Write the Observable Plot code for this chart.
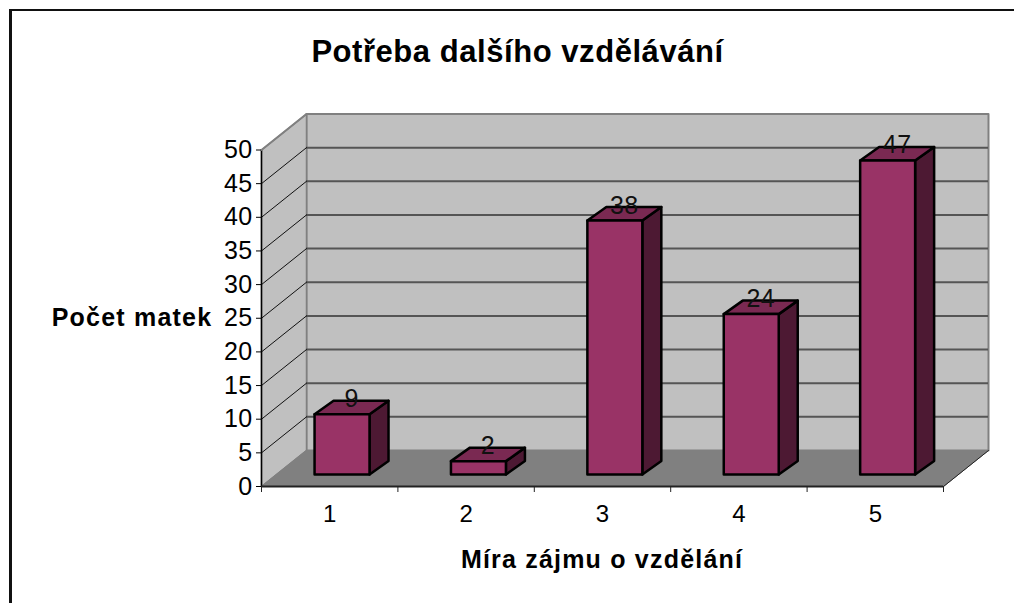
<!DOCTYPE html>
<html>
<head>
<meta charset="utf-8">
<script src="https://cdn.jsdelivr.net/npm/d3@7"></script>
<script src="https://cdn.jsdelivr.net/npm/@observablehq/plot@0.6"></script>
<style>
html,body{margin:0;padding:0;background:#fff;overflow:hidden}
#wrap{position:relative;width:1014px;height:603px}
#wrap svg{display:block}
#frame{position:absolute;left:9px;top:9px;right:0;bottom:0;border-left:3px solid #111;border-top:2.5px solid #111;pointer-events:none}
</style>
</head>
<body>
<div id="wrap"><div id="frame"></div></div>
<script>
const categories = [1, 2, 3, 4, 5];
const values = [9, 2, 38, 24, 47];
const yTicks = [0, 5, 10, 15, 20, 25, 30, 35, 40, 45, 50];
const gridValues = [5, 10, 15, 20, 25, 30, 35, 40, 45];
const xBoundaries = [0, 1, 2, 3, 4, 5];
const chartTitle = "Potřeba dalšího vzdělávání";
const xTitle = "Míra zájmu o vzdělání";
const yTitle = "Počet matek";

const W = 1014, H = 603;
const left = 261, right = 943, top0 = 149.5, bottom = 486;
const pxX = (right - left) / 5, pxY = (bottom - top0) / 50;
// convert pixel depth offsets into data units so all goes through the scales
const ux = p => p / pxX, uy = p => p / pxY;
const wallDX = ux(45), wallDY = uy(36);
const barDX = ux(19), barDY = uy(13.5);
const baseUp = uy(12);
const barStart = 0.389, barW = 0.403;
const barFore = 0.993; // bars stand slightly deeper in the 3-D box, so they foreshorten

const poly = pts => pts.map(([x, y]) => ({x, y}));
const withId = (list) => list.flatMap((pts, id) => poly(pts).map(p => ({...p, id})));
const polyMark = (list, o) => Plot.line(withId(list), {x: "x", y: "y", z: "id", curve: "linear-closed", ...o});
const spaced = (px) => (index, scales, vals, dims, ctx, next) => {
  const g = next(index, scales, vals, dims, ctx);
  g.style.letterSpacing = px + "px";
  return g;
};

const backWall = [[[wallDX, wallDY], [5 + wallDX, wallDY], [5 + wallDX, 50 + wallDY], [wallDX, 50 + wallDY]]];
const sideWall = [[[0, 0], [wallDX, wallDY], [wallDX, 50 + wallDY], [0, 50]]];
const floor = [[[0, 0], [5, 0], [5 + wallDX, wallDY], [wallDX, wallDY]]];

const rows = categories.map((c, i) => {
  const x1 = i + barStart, x2 = x1 + barW, y1 = baseUp, y2 = baseUp + values[i] * barFore;
  return {c, v: values[i], x1, x2, y1, y2};
});
const sides = rows.map(r => [[r.x2, r.y1], [r.x2 + barDX, r.y1 + barDY], [r.x2 + barDX, r.y2 + barDY], [r.x2, r.y2]]);
const tops = rows.map(r => [[r.x1, r.y2], [r.x2, r.y2], [r.x2 + barDX, r.y2 + barDY], [r.x1 + barDX, r.y2 + barDY]]);
const fronts = rows.map(r => [[r.x1, r.y1], [r.x2, r.y1], [r.x2, r.y2], [r.x1, r.y2]]);

const FF = "Liberation Sans, Arial, sans-serif";

const plot = Plot.plot({
  width: W, height: H,
  marginLeft: left, marginRight: W - right, marginTop: top0, marginBottom: H - bottom,
  x: {domain: [0, 5], axis: null},
  y: {domain: [0, 50], axis: null},
  style: {fontFamily: FF, background: "#fff", overflow: "visible"},
  marks: [
    polyMark(backWall, {fill: "#C0C0C0", stroke: "#808080", strokeWidth: 2}),
    polyMark(sideWall, {fill: "#C0C0C0", stroke: "#808080", strokeWidth: 1.5}),
    polyMark(floor, {fill: "#808080", stroke: "#808080", strokeWidth: 1}),
    Plot.ruleY(gridValues, {x1: wallDX, x2: 5 + wallDX, y: d => d + wallDY, stroke: "#555", strokeWidth: 2}),
    Plot.line(gridValues.flatMap(v => [{v, x: 0, y: v}, {v, x: wallDX, y: v + wallDY}]), {x: "x", y: "y", z: "v", stroke: "#111", strokeWidth: 1}),
    Plot.line([{x: 5, y: 0}, {x: 5 + wallDX, y: wallDY}], {x: "x", y: "y", stroke: "#222", strokeWidth: 1}),
    polyMark(sides, {fill: "#4D1933", stroke: "#000", strokeWidth: 2.5}),
    polyMark(tops, {fill: "#7A2952", stroke: "#000", strokeWidth: 2.5}),
    polyMark(fronts, {fill: "#993366", stroke: "#000", strokeWidth: 2.5}),
    Plot.ruleX([0], {y1: 0, y2: 50, stroke: "#000", strokeWidth: 1.5}),
    Plot.ruleY([0], {x1: 0, x2: 5, stroke: "#222", strokeWidth: 2}),
    Plot.line([{x: 0, y: 50}, {x: wallDX, y: 50 + wallDY}], {x: "x", y: "y", stroke: "#808080", strokeWidth: 2}),
    Plot.ruleX(xBoundaries, {y1: 0, y2: -uy(6), stroke: "#222", strokeWidth: 1}),
    Plot.axisY({ticks: yTicks, tickSize: 5, tickPadding: 4, fontSize: 25, stroke: "#000", fill: "#000", label: null, render: spaced(0.4)}),
    Plot.text(categories, {x: (d, i) => i + 0.5, y: 0, text: d => String(d), dy: 27.5, fontSize: 24, fill: "#000", lineAnchor: "middle"}),
    Plot.text(rows, {x: r => (r.x1 + r.x2 + barDX) / 2, y: r => r.y2 + barDY, text: r => String(r.v), dy: -1.5, fontSize: 25, fill: "#111", lineAnchor: "middle", render: spaced(0.4)}),
    Plot.text([chartTitle], {frameAnchor: "top", dx: -85, dy: -98, lineAnchor: "middle", fontSize: 31, fontWeight: "bold", fill: "#000", render: spaced(0.55)}),
    Plot.text([yTitle], {frameAnchor: "top", dx: -470.5, dy: 167.5, lineAnchor: "middle", fontSize: 25, fontWeight: "bold", fill: "#000", render: spaced(1.2)}),
    Plot.text([xTitle], {frameAnchor: "top", dx: -0.5, dy: 409.5, lineAnchor: "middle", fontSize: 25, fontWeight: "bold", fill: "#000", render: spaced(1.2)})
  ]
});
document.getElementById("wrap").prepend(plot);
</script>
</body>
</html>
